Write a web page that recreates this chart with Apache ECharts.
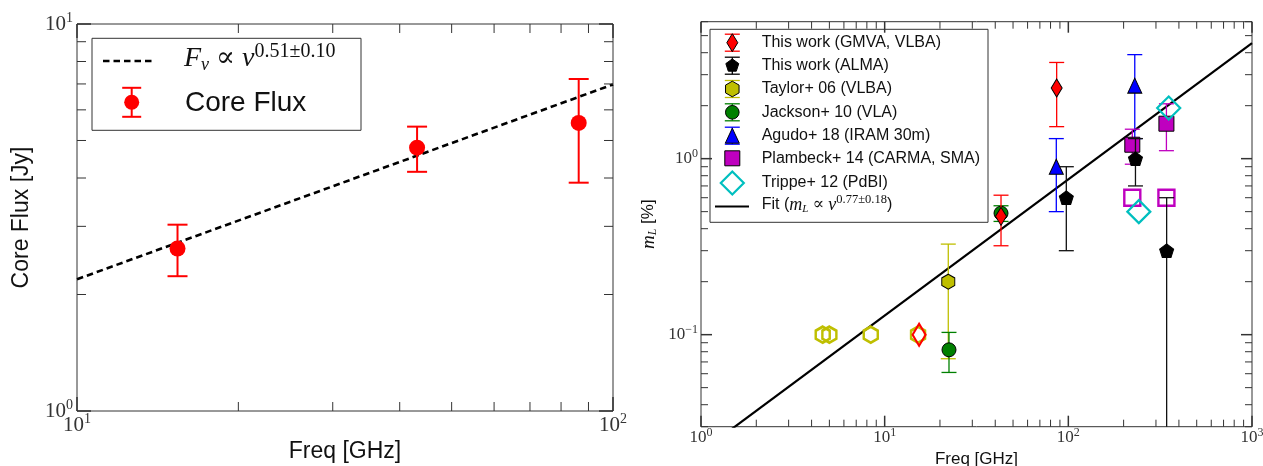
<!DOCTYPE html>
<html><head><meta charset="utf-8">
<script src="https://cdn.jsdelivr.net/npm/echarts@6/dist/echarts.min.js"></script>
<style>html,body{margin:0;padding:0;background:#fff}#c{width:1263px;height:466px}</style>
</head><body><div id="c"></div>
<script>
// ================= DATA =================
// Left panel: core flux vs frequency
const coreFreq = [15.4, 43.1, 86.3];
const coreFlux = [2.63, 4.79, 5.55];
const coreErr  = [0.40, 0.64, 1.66];
const coreFitFreq = [10, 100];
const coreFitFlux = [2.19, 6.98];
const leftXTicks = [10, 20, 30, 40, 50, 60, 70, 80, 90, 100];
const leftYTicks = [1, 2, 3, 4, 5, 6, 7, 8, 9, 10];

// Right panel: linear polarization degree m_L [%] vs frequency
const gmvaFreq = [43, 86.4];      const gmvaML = [0.47, 2.52];   const gmvaErr = [0.15, 1.0];
const gmvaLimFreq = [15.4];       const gmvaLimML = [0.1];
const almaFreq = [97.5, 232, 343]; const almaML = [0.6, 1.0, 0.3]; const almaErr = [0.3, 0.3, 0.3];
const taylorFreq = [22.2];        const taylorML = [0.2];        const taylorErr = [0.127];
const taylorLimFreq = [4.6, 5.0, 8.4, 15.2]; const taylorLimML = [0.1, 0.1, 0.1, 0.1];
const jacksonFreq = [22.4, 43];   const jacksonML = [0.082, 0.49]; const jacksonErr = [0.021, 0.05];
const agudoFreq = [86, 230];      const agudoML = [0.9, 2.6];    const agudoErr = [0.4, 1.3];
const plambeckFreq = [223, 342];  const plambeckML = [1.2, 1.58]; const plambeckErr = [0.27, 0.47];
const plambeckLimFreq = [223, 342]; const plambeckLimML = [0.6, 0.6];
const trippeFreq = [242, 352];    const trippeML = [0.5, 1.94];
const mlFitFreq = [1, 1000];      const mlFitML = [0.0216, 4.54];
const rightXTicks = [1, 2, 3, 4, 5, 6, 7, 8, 9, 10, 20, 30, 40, 50, 60, 70, 80, 90, 100,
                     200, 300, 400, 500, 600, 700, 800, 900, 1000];
const rightYTicks = [0.03, 0.04, 0.05, 0.06, 0.07, 0.08, 0.09, 0.1, 0.2, 0.3, 0.4, 0.5,
                     0.6, 0.7, 0.8, 0.9, 1, 2, 3, 4, 5, 6];
const legendNames = ['This work (GMVA, VLBA)', 'This work (ALMA)', 'Taylor+ 06 (VLBA)',
  'Jackson+ 10 (VLA)', 'Agudo+ 18 (IRAM 30m)', 'Plambeck+ 14 (CARMA, SMA)', 'Trippe+ 12 (PdBI)'];

// ================= STYLE =================
const SERIF = "'Liberation Serif', 'DejaVu Serif', serif";
const SANS = "'Liberation Sans', Arial, sans-serif";
const C = {red:'#ff0000', black:'#000000', yellow:'#bfbf00', green:'#008000', blue:'#0000ff', mag:'#bf00bf', cyan:'#00bfbf'};
const PENT = 'path://M0,-1L0.951,-0.309L0.588,0.809L-0.588,0.809L-0.951,-0.309Z';
const HEX = 'path://M0,-1L0.866,-0.5L0.866,0.5L0,1L-0.866,0.5L-0.866,-0.5Z';

function isPow10(v){ const e = Math.log10(v); return Math.abs(e - Math.round(e)) < 1e-6; }
function powLabel(v){
  if (!isPow10(v)) return '';
  const e = Math.round(Math.log10(v));
  return '{b|10}{s|' + (e < 0 ? '\u2212' + (-e) : e) + '}';
}
function richFor(base, sup, pad){
  return { b:{fontFamily:SERIF, fontSize:base, color:'#333'},
           s:{fontFamily:SERIF, fontSize:sup, color:'#333', padding:[0,0,pad,0]} };
}

function errSeries(gi, freq, val, err, color, capHalf, lw, z){
  return {
    type:'custom', xAxisIndex:gi, yAxisIndex:gi, silent:true, z:z,
    data: freq.map((f,i)=>[f, val[i], err[i]]),
    encode:{x:0, y:1},
    renderItem: function(params, api){
      const cs = params.coordSys;
      const f = api.value(0), v = api.value(1), e = api.value(2);
      const px = api.coord([f, v])[0];
      const bottom = cs.y + cs.height;
      const hi = v + e, lo = v - e;
      const yt = Math.max(cs.y, api.coord([f, hi])[1]);
      const yb = lo > 0 ? Math.min(bottom, api.coord([f, lo])[1]) : bottom;
      const st = {stroke:color, lineWidth:lw};
      const ch = [{type:'line', shape:{x1:px, y1:yb, x2:px, y2:yt}, style:st},
                  {type:'line', shape:{x1:px-capHalf, y1:yt, x2:px+capHalf, y2:yt}, style:st}];
      if (lo > 0) ch.push({type:'line', shape:{x1:px-capHalf, y1:yb, x2:px+capHalf, y2:yb}, style:st});
      return {type:'group', children:ch};
    }
  };
}
function scat(gi, freq, val, symbol, size, fill, border, bw, z){
  return {type:'scatter', xAxisIndex:gi, yAxisIndex:gi, silent:true, z:z,
    data: freq.map((f,i)=>[f, val[i]]), symbol:symbol, symbolSize:size,
    itemStyle:{color:fill, borderColor:border, borderWidth:bw, opacity:1}};
}
function tickSeries(gi, ticks, dir, minLen, majLen, xMin, yMin){
  return {type:'custom', xAxisIndex:gi, yAxisIndex:gi, silent:true, z:30,
    data: ticks.map(v => dir === 'x' ? [v, yMin] : [xMin, v]),
    encode:{x:0, y:1},
    renderItem: function(params, api){
      const cs = params.coordSys;
      const v = api.value(dir === 'x' ? 0 : 1);
      const maj = isPow10(v);
      const len = maj ? majLen : minLen;
      const st = {stroke:'#333', lineWidth: maj ? 1.5 : 1};
      if (dir === 'x') {
        const px = api.coord([v, yMin])[0];
        const b = cs.y + cs.height;
        return {type:'group', children:[
          {type:'line', shape:{x1:px, y1:b, x2:px, y2:b-len}, style:st},
          {type:'line', shape:{x1:px, y1:cs.y, x2:px, y2:cs.y+len}, style:st}]};
      } else {
        const py = api.coord([xMin, v])[1];
        const r = cs.x + cs.width;
        return {type:'group', children:[
          {type:'line', shape:{x1:cs.x, y1:py, x2:cs.x+len, y2:py}, style:st},
          {type:'line', shape:{x1:r, y1:py, x2:r-len, y2:py}, style:st}]};
      }
    }
  };
}

// ================= LEGEND GLYPHS (layout only) =================
function poly(pts, fill, stroke, lw){ return {type:'polygon', shape:{points:pts}, style:{fill:fill, stroke:stroke, lineWidth:lw}}; }
function lgErr(cx, cy, half, capHalf, color, lw){
  const st = {stroke:color, lineWidth:lw};
  return [{type:'line', shape:{x1:cx, y1:cy-half, x2:cx, y2:cy+half}, style:st},
          {type:'line', shape:{x1:cx-capHalf, y1:cy-half, x2:cx+capHalf, y2:cy-half}, style:st},
          {type:'line', shape:{x1:cx-capHalf, y1:cy+half, x2:cx+capHalf, y2:cy+half}, style:st}];
}
const LX = 732.3;
const rowsY = [42.7, 65.7, 89, 112.3, 135.7, 158.3, 183, 205];
let rl = [{type:'rect', shape:{x:710, y:29.3, width:278, height:193}, style:{fill:'#fff', stroke:'#333', lineWidth:1}}];
rl = rl.concat(lgErr(LX, rowsY[0], 8.5, 7.5, C.red, 1.3));
rl.push(poly([[LX,rowsY[0]-9],[LX+5.5,rowsY[0]],[LX,rowsY[0]+9],[LX-5.5,rowsY[0]]], C.red, '#000', 1));
rl = rl.concat(lgErr(LX, rowsY[1], 8.5, 7.5, C.black, 1.3));
(function(){ const r=6.8, y=rowsY[1]; rl.push(poly([[LX,y-r],[LX+0.951*r,y-0.309*r],[LX+0.588*r,y+0.809*r],[LX-0.588*r,y+0.809*r],[LX-0.951*r,y-0.309*r]], C.black, '#000', 1)); })();
rl = rl.concat(lgErr(LX, rowsY[2], 8.5, 7.5, C.yellow, 1.3));
(function(){ const r=7.8, y=rowsY[2]; rl.push(poly([[LX,y-r],[LX+0.866*r,y-0.5*r],[LX+0.866*r,y+0.5*r],[LX,y+r],[LX-0.866*r,y+0.5*r],[LX-0.866*r,y-0.5*r]], C.yellow, '#000', 1)); })();
rl = rl.concat(lgErr(LX, rowsY[3], 8.5, 7.5, C.green, 1.3));
rl.push({type:'circle', shape:{cx:LX, cy:rowsY[3], r:6.8}, style:{fill:C.green, stroke:'#000', lineWidth:1}});
rl = rl.concat(lgErr(LX, rowsY[4], 8.5, 7.5, C.blue, 1.3));
rl.push(poly([[LX,rowsY[4]-7.5],[LX+7,rowsY[4]+7.5],[LX-7,rowsY[4]+7.5]], C.blue, '#000', 1));
rl.push({type:'rect', shape:{x:LX-7.5, y:rowsY[5]-7.5, width:15, height:15}, style:{fill:C.mag, stroke:'#000', lineWidth:1}});
rl.push(poly([[LX,rowsY[6]-11.5],[LX+11.5,rowsY[6]],[LX,rowsY[6]+11.5],[LX-11.5,rowsY[6]]], 'rgba(0,0,0,0)', C.cyan, 2.2));
rl.push({type:'line', shape:{x1:715, y1:206.5, x2:749, y2:206.5}, style:{stroke:'#000', lineWidth:2.2}});
legendNames.forEach((n,i)=>{
  rl.push({type:'text', x:761.7, y:rowsY[i], style:{text:n, font:'16px ' + SANS, fill:'#111', verticalAlign:'middle', align:'left'}});
});
rl.push({type:'text', x:761.7, y:rowsY[7], style:{
  text:'{t|Fit (}{i|m}{sub|L}{r| \u221d }{i|\u03bd}{sup|0.77\u00b10.18}{t|)}',
  verticalAlign:'middle', align:'left', fill:'#111',
  rich:{ t:{fontFamily:SANS, fontSize:16, fill:'#111'},
         i:{fontFamily:SERIF, fontStyle:'italic', fontSize:18, fill:'#111'},
         r:{fontFamily:SERIF, fontSize:17, fill:'#111'},
         sub:{fontFamily:SERIF, fontStyle:'italic', fontSize:11, fill:'#111', padding:[8,0,0,0]},
         sup:{fontFamily:SERIF, fontSize:12.5, fill:'#111', padding:[0,0,10,0]} } }});

const ll = [
  {type:'rect', shape:{x:92, y:38.3, width:269, height:92}, style:{fill:'#fff', stroke:'#333', lineWidth:1}},
  {type:'line', shape:{x1:103, y1:61, x2:155, y2:61}, style:{stroke:'#000', lineWidth:2.6, lineDash:[6.5,4]}},
  {type:'text', x:184, y:59, style:{
    text:'{i|F}{sub|\u03bd}{r| \u221d }{i|\u03bd}{sup|0.51\u00b10.10}',
    verticalAlign:'middle', align:'left', fill:'#111',
    rich:{ i:{fontFamily:SERIF, fontStyle:'italic', fontSize:28, fill:'#111'},
           r:{fontFamily:SERIF, fontSize:28, fill:'#111'},
           sub:{fontFamily:SERIF, fontStyle:'italic', fontSize:18, fill:'#111', padding:[12,0,0,0]},
           sup:{fontFamily:SERIF, fontSize:20, fill:'#111', padding:[0,0,15,0]} } }},
  ...lgErr(131.7, 102.3, 14.5, 9.5, C.red, 2),
  {type:'circle', shape:{cx:131.7, cy:102.3, r:7.5}, style:{fill:C.red}},
  {type:'text', x:185, y:103, style:{text:'Core Flux', font:'28px ' + SANS, fill:'#111', verticalAlign:'middle', align:'left'}}
];

// ================= CHART =================
const chart = echarts.init(document.getElementById('c'), null, {renderer:'canvas'});
const axisCommon = {type:'log', logBase:10, axisLine:{show:false}, axisTick:{show:false}, splitLine:{show:false}, minorTick:{show:false}};
const option = {
  animation:false,
  backgroundColor:'#fff',
  grid:[
    {left:77, top:24, width:536, height:387, show:true, borderColor:'#333', borderWidth:1, backgroundColor:'#fff', containLabel:false, outerBoundsMode:'none'},
    {left:701, top:21.7, width:551, height:405, show:true, borderColor:'#333', borderWidth:1, backgroundColor:'#fff', containLabel:false, outerBoundsMode:'none'}
  ],
  xAxis:[
    Object.assign({}, axisCommon, {gridIndex:0, min:10, max:100,
      axisLabel:{formatter:powLabel, margin:1, rich:richFor(21, 14, 12)},
      name:'Freq [GHz]', nameLocation:'middle', nameGap:28,
      nameTextStyle:{fontFamily:SANS, fontSize:23, color:'#111'}}),
    Object.assign({}, axisCommon, {gridIndex:1, min:1, max:1000,
      axisLabel:{formatter:powLabel, margin:0, rich:richFor(17, 12, 10)},
      name:'Freq [GHz]', nameLocation:'middle', nameGap:21,
      nameTextStyle:{fontFamily:SANS, fontSize:17, color:'#111'}})
  ],
  yAxis:[
    Object.assign({}, axisCommon, {gridIndex:0, min:1, max:10,
      axisLabel:{formatter:powLabel, margin:4, rich:richFor(21, 14, 12)},
      name:'Core Flux [Jy]', nameLocation:'middle', nameRotate:90, nameGap:44,
      nameTextStyle:{fontFamily:SANS, fontSize:23, color:'#111'}}),
    Object.assign({}, axisCommon, {gridIndex:1, min:0.03, max:6,
      axisLabel:{formatter:powLabel, margin:3, rich:richFor(17, 12, 10)},
      name:'{i|m}{sub|L}{t| [%]}', nameLocation:'middle', nameRotate:90, nameGap:42,
      nameTextStyle:{rich:{
        i:{fontFamily:SERIF, fontStyle:'italic', fontSize:19, color:'#111'},
        sub:{fontFamily:SERIF, fontStyle:'italic', fontSize:12, color:'#111', padding:[9,0,0,0]},
        t:{fontFamily:SANS, fontSize:17, color:'#111'}}}})
  ],
  series:[
    {type:'line', xAxisIndex:0, yAxisIndex:0, silent:true, z:2, showSymbol:false, symbol:'none', clip:true,
     data: coreFitFreq.map((f,i)=>[f, coreFitFlux[i]]),
     lineStyle:{color:'#000', width:2.6, type:[6.5,4]}},
    errSeries(0, coreFreq, coreFlux, coreErr, C.red, 10, 2, 3),
    scat(0, coreFreq, coreFlux, 'circle', 16, C.red, C.red, 0, 4),
    tickSeries(0, leftXTicks, 'x', 9, 14, 10, 1),
    tickSeries(0, leftYTicks, 'y', 9, 14, 10, 1),
    {type:'line', xAxisIndex:1, yAxisIndex:1, silent:true, z:2, showSymbol:false, symbol:'none', clip:true,
     data: mlFitFreq.map((f,i)=>[f, mlFitML[i]]),
     lineStyle:{color:'#000', width:2.2}},
    errSeries(1, taylorFreq, taylorML, taylorErr, C.yellow, 7.5, 1.3, 3),
    scat(1, taylorFreq, taylorML, HEX, [13,15], C.yellow, '#000', 1, 3),
    scat(1, taylorLimFreq, taylorLimML, HEX, [14,16], 'rgba(0,0,0,0)', C.yellow, 2.6, 3),
    errSeries(1, jacksonFreq, jacksonML, jacksonErr, C.green, 7.5, 1.3, 4),
    scat(1, jacksonFreq, jacksonML, 'circle', 14, C.green, '#000', 1, 4),
    errSeries(1, agudoFreq, agudoML, agudoErr, C.blue, 7.5, 1.3, 5),
    scat(1, agudoFreq, agudoML, 'triangle', [14,15], C.blue, '#000', 1, 5),
    errSeries(1, plambeckFreq, plambeckML, plambeckErr, C.mag, 7.5, 1.3, 6),
    scat(1, plambeckFreq, plambeckML, 'rect', 15, C.mag, '#000', 1, 6),
    scat(1, plambeckLimFreq, plambeckLimML, 'rect', 16, 'rgba(0,0,0,0)', C.mag, 2.4, 6),
    scat(1, trippeFreq, trippeML, 'diamond', 23, 'rgba(0,0,0,0)', C.cyan, 2.2, 7),
    errSeries(1, almaFreq, almaML, almaErr, '#111', 7.5, 1.3, 8),
    scat(1, almaFreq, almaML, PENT, [14,13.5], C.black, '#000', 1, 8),
    errSeries(1, gmvaFreq, gmvaML, gmvaErr, C.red, 7.5, 1.3, 9),
    scat(1, gmvaFreq, gmvaML, 'diamond', [11,18], C.red, '#000', 1, 9),
    scat(1, gmvaLimFreq, gmvaLimML, 'diamond', [13,22], 'rgba(0,0,0,0)', C.red, 2.2, 9),
    tickSeries(1, rightXTicks, 'x', 7, 11, 1, 0.03),
    tickSeries(1, rightYTicks, 'y', 7, 11, 1, 0.03)
  ],
  graphic:[
    {type:'group', z:100, children: ll},
    {type:'group', z:100, children: rl}
  ]
};
chart.setOption(option);
</script>
</body></html>
